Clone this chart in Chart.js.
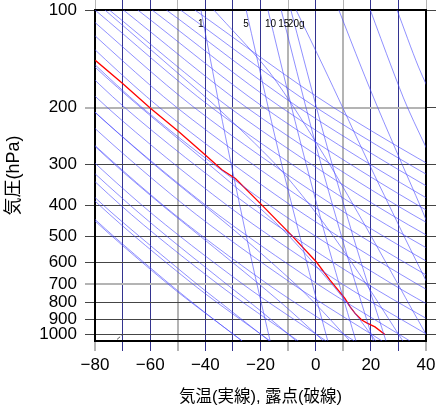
<!DOCTYPE html>
<html lang="ja">
<head>
  <meta charset="UTF-8">
  <title>エマグラム</title>
  <script src="https://cdn.jsdelivr.net/npm/chart.js@4.4.0/dist/chart.umd.min.js"></script>
  <style>
    body { margin: 0; padding: 0; background: #fff; }
    #wrap { width: 436px; height: 411px; }
  </style>
</head>
<body>
  <div id="wrap"><canvas id="emagram" width="436" height="411"></canvas></div>

  <script>
    // 軸
    const tempMin = -80, tempMax = 40;
    const presTop = 100, presBottom = 1050;
    const presTicks = [100, 200, 300, 400, 500, 600, 700, 800, 900, 1000];
    const greyPres = [200, 700];
    const greyTemps = [-80, -50, -10, 10, 40];

    // 気温 (実線)
    const tempP = [143, 168, 201, 237, 280, 311, 331, 395, 495, 598, 681, 776, 824, 863, 905, 923, 950, 1002];
    const tempT = [-79.9, -70.2, -59.9, -49.7, -40.0, -34.0, -29.1, -20.1, -8.8, 0.2, 5.2, 10.6, 12.5, 14.3, 16.7, 18.5, 21.5, 25.1];

    // 露点 (破線)
    const dewP = [1038, 1007];
    const dewT = [-72.0, -70.2];

    // 乾燥断熱線 (theta = -30 ... 170 C)
    const dryLevels = [100, 200, 400, 700, 1050];
    const dryTemps = [
      [-147.3, -119.7, -86.1, -53.6, -26.6],
      [-142.1, -113.4, -78.4, -44.6, -16.5],
      [-136.9, -107.1, -70.7, -35.5, -6.3],
      [-131.8, -100.8, -63.0, -26.5, 3.8],
      [-126.6, -94.5, -55.3, -17.5, 14.0],
      [-121.4, -88.1, -47.6, -8.4, 24.1],
      [-116.2, -81.8, -39.9, 0.6, 34.2],
      [-111.1, -75.5, -32.2, 9.6, 44.4],
      [-105.9, -69.2, -24.5, 18.7, 54.5],
      [-100.7, -62.9, -16.8, 27.7, 64.7],
      [-95.5, -56.6, -9.1, 36.7, 74.8],
      [-90.4, -50.3, -1.4, 45.7, 84.9],
      [-85.2, -44.0, 6.3, 54.8, 95.1],
      [-80.0, -37.7, 14.0, 63.8, 105.2],
      [-74.8, -31.3, 21.6, 72.8, 115.4],
      [-69.7, -25.0, 29.3, 81.9, 125.5],
      [-64.5, -18.7, 37.0, 90.9, 135.6],
      [-59.3, -12.4, 44.7, 99.9, 145.8],
      [-54.1, -6.1, 52.4, 109.0, 155.9],
      [-49.0, 0.2, 60.1, 118.0, 166.1],
      [-43.8, 6.5, 67.8, 127.0, 176.2]
    ];

    // 湿潤断熱線 (theta-w = -30 ... 80 C)
    const moistLevels = [100, 150, 200, 300, 400, 500, 700, 850, 1050];
    const moistTemps = [
      [-146.9, -131.4, -119.2, -100.3, -85.5, -73.1, -53.0, -40.7, -26.7],
      [-141.1, -124.9, -112.2, -92.4, -77.0, -63.8, -43.1, -30.5, -16.8],
      [-134.6, -117.6, -104.3, -83.5, -67.3, -53.8, -32.4, -19.8, -7.0],
      [-126.8, -108.8, -94.7, -72.8, -55.7, -41.7, -20.6, -9.0, 2.8],
      [-116.3, -97.0, -81.9, -58.5, -40.6, -26.8, -7.4, 2.5, 12.4],
      [-101.0, -80.0, -63.4, -38.6, -21.4, -9.5, 5.8, 13.7, 21.8],
      [-76.4, -52.5, -35.7, -14.4, -2.1, 6.5, 18.3, 24.7, 31.6],
      [-36.9, -18.2, -7.9, 5.1, 13.7, 20.2, 29.8, 35.3, 41.4],
      [-7.1, 2.9, 9.8, 19.5, 26.6, 32.1, 40.6, null, null],
      [8.4, 16.5, 22.5, 31.4, 37.8, 42.5, null, null, null],
      [19.8, 27.5, 33.3, 43.0, null, null, null, null, null],
      [29.5, 37.3, 44.0, null, null, null, null, null, null]
    ];

    // 等飽和混合比線 (g/kg)
    const mixLabels = ['1', '5', '10', '15', '20g'];
    const mixLevels = [100, 200, 300, 500, 700, 1050];
    const mixTemps = [
      [-41.6, -34.8, -30.6, -25.1, -21.3, -16.5],
      [-25.2, -17.2, -12.3, -5.7, -1.2, 4.4],
      [-17.3, -8.7, -3.4, 3.6, 8.5, 14.6],
      [-12.5, -3.5, 2.0, 9.4, 14.5, 20.9],
      [-9.0, 0.3, 6.0, 13.6, 18.9, 25.5]
    ];

    const BLUE = 'rgba(70, 70, 255, 0.6)';
    const ISO_BLUE = '#33338f';
    const GREY = '#b4b4b4';
    const DARK = '#454545';

    function makeLine(levels, temps, color, width, tension) {
      const pts = [];
      levels.forEach((p, i) => {
        if (temps[i] !== null) pts.push({ x: temps[i], y: p });
      });
      return {
        data: pts,
        showLine: true,
        borderColor: color,
        borderWidth: width,
        pointRadius: 0,
        tension: tension,
        fill: false
      };
    }

    const datasets = [];
    dryTemps.forEach(t => datasets.push(makeLine(dryLevels, t, BLUE, 1, 0.3)));
    moistTemps.forEach(t => datasets.push(makeLine(moistLevels, t, BLUE, 1, 0.3)));
    mixTemps.forEach(t => datasets.push(makeLine(mixLevels, t, BLUE, 1, 0.3)));
    const dew = makeLine(dewP, dewT, '#555', 1, 0);
    dew.borderDash = [4, 2];
    datasets.push(dew);
    datasets.push(makeLine(tempP, tempT, 'red', 1.3, 0));

    function minus(v) {
      return v < 0 ? '\u2212' + (-v) : String(v);
    }

    const tempGridColor = c => (c.tick && greyTemps.includes(c.tick.value)) ? GREY : ISO_BLUE;
    const tempGridWidth = c => (c.tick && greyTemps.includes(c.tick.value)) ? 2 : 1;
    const presGridColor = c => (c.tick && greyPres.includes(c.tick.value)) ? GREY : DARK;
    const presGridWidth = c => (c.tick && greyPres.includes(c.tick.value)) ? 2 : 1;
    const setPresTicks = s => { s.ticks = presTicks.map(v => ({ value: v })); };

    // 軸の幅を固定して、描画領域を元の図に合わせる
    function fixBox(size) {
      return s => {
        if (s.isHorizontal()) s.height = size; else s.width = size;
        s.paddingLeft = s.paddingRight = s.paddingTop = s.paddingBottom = 0;
      };
    }

    const mixLabelPlugin = {
      id: 'mixLabels',
      afterDatasetsDraw(chart) {
        const ctx = chart.ctx;
        const xs = chart.scales.x, ys = chart.scales.y;
        ctx.save();
        ctx.fillStyle = '#000';
        ctx.font = '10px "Liberation Sans", Arial, sans-serif';
        ctx.textAlign = 'left';
        ctx.textBaseline = 'middle';
        mixLabels.forEach((lab, i) => {
          ctx.fillText(lab, xs.getPixelForValue(mixTemps[i][0]) - 3, ys.getPixelForValue(111));
        });
        ctx.restore();
      }
    };

    const font = { family: '"Liberation Sans", Arial, sans-serif', size: 17 };
    const xTitleFont = { family: '"Liberation Sans", "Noto Sans CJK JP", sans-serif', size: 16.5 };
    const yTitleFont = { family: '"Liberation Sans", "Noto Sans CJK JP", sans-serif', size: 18 };

    new Chart(document.getElementById('emagram'), {
      type: 'scatter',
      data: { datasets: datasets },
      options: {
        responsive: false,
        animation: false,
        devicePixelRatio: 1,
        plugins: { legend: { display: false }, tooltip: { enabled: false } },
        layout: { padding: 0 },
        scales: {
          x: {
            type: 'linear', position: 'bottom', min: tempMin, max: tempMax,
            afterFit: fixBox(70),
            ticks: {
              stepSize: 10, autoSkip: false, maxRotation: 0, padding: 4,
              color: '#000', font: font,
              callback: v => (v % 20 === 0 ? minus(v) : '')
            },
            grid: { color: tempGridColor, lineWidth: tempGridWidth, tickLength: 10 },
            border: { display: true, color: '#000', width: 2 },
            title: { display: true, text: '気温(実線), 露点(破線)', color: '#000', font: xTitleFont, padding: { top: 0, bottom: 4 } }
          },
          x2: {
            type: 'linear', position: 'top', min: tempMin, max: tempMax,
            afterFit: fixBox(10),
            ticks: { stepSize: 10, display: false },
            grid: { drawOnChartArea: false, color: tempGridColor, tickLength: 10 },
            border: { display: true, color: '#000', width: 2 }
          },
          y: {
            type: 'logarithmic', position: 'left', reverse: true, min: presTop, max: presBottom,
            afterBuildTicks: setPresTicks,
            afterFit: fixBox(95),
            ticks: { color: '#000', font: font, padding: 8, autoSkip: false, callback: v => String(v) },
            grid: { color: presGridColor, lineWidth: presGridWidth, tickLength: 10 },
            border: { display: true, color: '#000', width: 2 },
            title: { display: true, text: '気圧(hPa)', color: '#000', font: yTitleFont, padding: { top: 3, bottom: 0 } }
          },
          y2: {
            type: 'logarithmic', position: 'right', reverse: true, min: presTop, max: presBottom,
            afterBuildTicks: setPresTicks,
            afterFit: fixBox(10),
            ticks: { display: false },
            grid: { drawOnChartArea: false, color: DARK, tickLength: 10 },
            border: { display: true, color: '#000', width: 2 }
          }
        }
      },
      plugins: [mixLabelPlugin]
    });
  </script>
</body>
</html>
